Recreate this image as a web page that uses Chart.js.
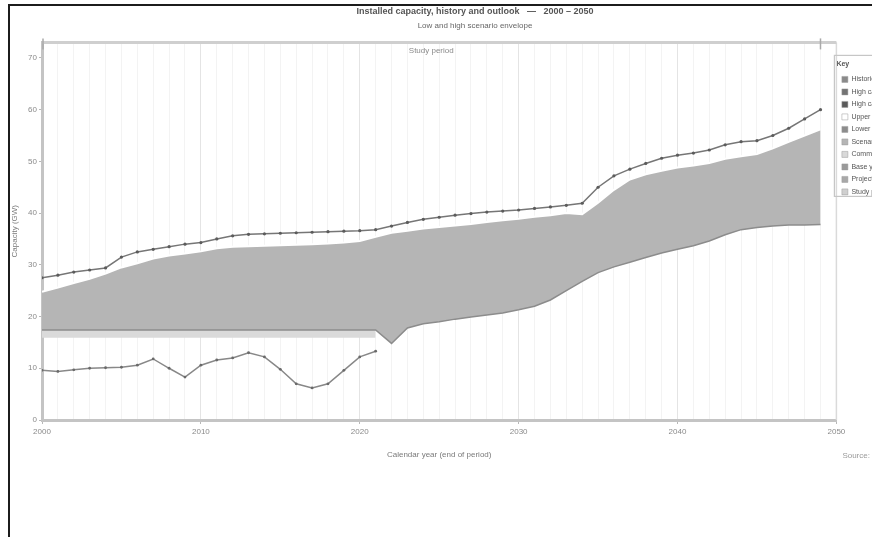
<!DOCTYPE html>
<html>
<head>
<meta charset="utf-8">
<title>Installed capacity outlook</title>
<script src="https://cdn.jsdelivr.net/npm/chart.js@4.4.1/dist/chart.umd.min.js"></script>
<style>
  html, body { margin: 0; padding: 0; background: #ffffff; overflow: hidden; }
  #frame {
    position: absolute; left: 8px; top: 4px;
    width: 1000px; height: 600px;
    border-left: 2px solid #1c1c1c; border-top: 2px solid #1c1c1c;
  }
  #chart { position: absolute; left: 0; top: 0; }
</style>
</head>
<body>
<div id="frame"><canvas id="chart" width="930" height="466"></canvas></div>
<script>
// Years on the horizontal axis
const years = [2000, 2001, 2002, 2003, 2004, 2005, 2006, 2007, 2008, 2009,
               2010, 2011, 2012, 2013, 2014, 2015, 2016, 2017, 2018, 2019,
               2020, 2021, 2022, 2023, 2024, 2025, 2026, 2027, 2028, 2029,
               2030, 2031, 2032, 2033, 2034, 2035, 2036, 2037, 2038, 2039,
               2040, 2041, 2042, 2043, 2044, 2045, 2046, 2047, 2048, 2049];
const historyYears = [2000, 2001, 2002, 2003, 2004, 2005, 2006, 2007, 2008, 2009, 2010,
                      2011, 2012, 2013, 2014, 2015, 2016, 2017, 2018, 2019, 2020, 2021];

// High case (GW)
const highCase = [27.5, 28.0, 28.6, 29.0, 29.4, 31.5, 32.5, 33.0, 33.5, 34.0,
                  34.3, 35.0, 35.6, 35.9, 36.0, 36.1, 36.2, 36.3, 36.4, 36.5,
                  36.6, 36.8, 37.5, 38.2, 38.8, 39.2, 39.6, 39.9, 40.2, 40.4,
                  40.6, 40.9, 41.2, 41.5, 41.9, 45.0, 47.2, 48.5, 49.6, 50.6,
                  51.2, 51.6, 52.2, 53.2, 53.8, 54.0, 55.0, 56.4, 58.2, 60.0];
// Upper edge of the scenario range (GW)
const rangeUpper = [24.8, 25.6, 26.5, 27.3, 28.3, 29.5, 30.3, 31.2, 31.8, 32.2,
                    32.6, 33.2, 33.5, 33.6, 33.7, 33.8, 33.9, 34.0, 34.1, 34.3,
                    34.6, 35.4, 36.2, 36.6, 37.0, 37.3, 37.6, 37.9, 38.3, 38.6,
                    38.9, 39.3, 39.6, 40.0, 39.8, 42.0, 44.5, 46.5, 47.5, 48.2,
                    48.8, 49.2, 49.7, 50.5, 51.0, 51.4, 52.5, 53.8, 55.0, 56.2];
// Lower edge of the scenario range (GW)
const rangeLower = [17.4, 17.4, 17.4, 17.4, 17.4, 17.4, 17.4, 17.4, 17.4, 17.4,
                    17.4, 17.4, 17.4, 17.4, 17.4, 17.4, 17.4, 17.4, 17.4, 17.4,
                    17.4, 17.4, 14.8, 17.8, 18.6, 19.0, 19.5, 19.9, 20.3, 20.7,
                    21.3, 22.0, 23.2, 25.0, 26.8, 28.5, 29.6, 30.5, 31.4, 32.3,
                    33.0, 33.7, 34.6, 35.8, 36.8, 37.2, 37.5, 37.7, 37.7, 37.8];
// Historical record (GW)
const historical = [9.6, 9.4, 9.7, 10.0, 10.1, 10.2, 10.6, 11.8, 10.0, 8.3, 10.6,
                    11.6, 12.0, 13.0, 12.2, 9.8, 7.0, 6.2, 7.0, 9.6, 12.2, 13.3];
// Committed floor strip below the range (GW)
const committedFloor = [15.9, 15.9, 15.9, 15.9, 15.9, 15.9, 15.9, 15.9, 15.9, 15.9, 15.9,
                        15.9, 15.9, 15.9, 15.9, 15.9, 15.9, 15.9, 15.9, 15.9, 15.9, 15.9];
const floorTopValue = 17.4;

// Axis ticks
const yMin = 0, yMax = 73, yStep = 10;
const xMin = 2000, xMax = 2050, xMajorStep = 10;

// Legend entries
const legendLabels = ['Historical record (annual)', 'High case (annual)', 'High case markers',
                      'Upper edge of range', 'Lower edge of range', 'Scenario range (shaded)',
                      'Committed floor', 'Base year 2021', 'Projection start 2022',
                      'Study period 2000 - 2049'];
const legendSwatches = ['#8a8a8a', '#737373', '#5a5a5a', '#ffffff', '#8c8c8c',
                        '#b5b5b5', '#d9d9d9', '#9a9a9a', '#a8a8a8', '#cfcfcf'];

const toPoints = (xs, ys) => xs.map((x, i) => ({ x: x, y: ys[i] }));

const FONT = "'Liberation Sans', Arial, sans-serif";

// Frame details: top span bar, right edge, legend box and source note
const frameDecor = {
  id: 'frameDecor',
  afterDraw(chart) {
    const { ctx, chartArea: a, scales } = chart;
    ctx.save();
    // right edge of the plot
    ctx.strokeStyle = '#dadada';
    ctx.lineWidth = 1.5;
    ctx.beginPath(); ctx.moveTo(a.right, a.top); ctx.lineTo(a.right, a.bottom); ctx.stroke();
    // span bar along the top
    ctx.strokeStyle = '#cfcfcf';
    ctx.lineWidth = 3;
    ctx.beginPath(); ctx.moveTo(a.left, a.top); ctx.lineTo(a.right, a.top); ctx.stroke();
    const x0 = scales.x.getPixelForValue(years[0]);
    const x1 = scales.x.getPixelForValue(years[years.length - 1]);
    ctx.strokeStyle = '#a9a9a9';
    ctx.lineWidth = 1.5;
    [x0 + 1, x1].forEach(px => {
      ctx.beginPath(); ctx.moveTo(px, a.top - 4); ctx.lineTo(px, a.top + 7); ctx.stroke();
    });
    ctx.fillStyle = '#8a8a8a';
    ctx.font = '8px ' + FONT;
    ctx.textAlign = 'center';
    ctx.textBaseline = 'middle';
    ctx.fillText('Study period', (x0 + x1) / 2, a.top + 8);
    // legend frame
    const lg = chart.legend;
    ctx.strokeStyle = '#c6c6c6';
    ctx.lineWidth = 1.2;
    ctx.strokeRect(lg.left - 2, a.top + 13, 140, 141);
    // source note
    ctx.fillStyle = '#9a9a9a';
    ctx.textAlign = 'left';
    ctx.fillText('Source: scenario model', a.right + 6, a.bottom + 36);
    ctx.restore();
  }
};

const ctx = document.getElementById('chart').getContext('2d');
new Chart(ctx, {
  type: 'line',
  data: {
    datasets: [
      {
        label: 'Lower edge of range',
        data: toPoints(years, rangeLower),
        borderColor: '#8c8c8c',
        borderWidth: 1.5,
        pointRadius: 0,
        fill: false,
        tension: 0,
        order: 3
      },
      {
        label: 'Upper edge of range',
        data: toPoints(years, rangeUpper),
        borderColor: '#ffffff',
        borderWidth: 2,
        backgroundColor: '#b5b5b5',
        pointRadius: 0,
        fill: '-1',
        tension: 0,
        order: 4
      },
      {
        label: 'High case',
        data: toPoints(years, highCase),
        borderColor: '#767676',
        borderWidth: 1.5,
        pointRadius: 1.6,
        pointBackgroundColor: '#5c5c5c',
        pointBorderWidth: 0,
        fill: false,
        tension: 0,
        order: 1
      },
      {
        label: 'Historical record',
        data: toPoints(historyYears, historical),
        borderColor: '#888888',
        borderWidth: 1.5,
        pointRadius: 1.4,
        pointBackgroundColor: '#6a6a6a',
        pointBorderWidth: 0,
        fill: false,
        tension: 0,
        order: 1
      },
      {
        label: 'Committed floor',
        data: toPoints(historyYears, committedFloor),
        borderColor: 'rgba(0,0,0,0)',
        borderWidth: 0,
        backgroundColor: '#dadada',
        pointRadius: 0,
        fill: { target: { value: floorTopValue } },
        tension: 0,
        order: 5
      }
    ]
  },
  options: {
    responsive: false,
    devicePixelRatio: 1,
    animation: false,
    layout: { padding: { left: 0, right: 0, top: 0, bottom: 0 } },
    plugins: {
      title: {
        display: true,
        text: 'Installed capacity, history and outlook   \u2014   2000 \u2013 2050',
        color: '#555555',
        font: { family: FONT, size: 9, weight: 'bold' },
        padding: { top: 0, bottom: 4 }
      },
      subtitle: {
        display: true,
        text: 'Low and high scenario envelope',
        color: '#666666',
        font: { family: FONT, size: 8 },
        padding: { top: 0, bottom: 12 }
      },
      legend: {
        display: true,
        position: 'right',
        align: 'start',
        maxWidth: 108,
        title: {
          display: true,
          position: 'start',
          text: 'Key',
          color: '#555555',
          font: { family: FONT, size: 7, weight: 'bold' },
          padding: { top: 55, bottom: 1 }
        },
        labels: {
          color: '#808080',
          font: { family: FONT, size: 7 },
          boxWidth: 6,
          boxHeight: 6,
          padding: 5.5,
          generateLabels: () => legendLabels.map((t, i) => ({
            text: t,
            fillStyle: legendSwatches[i],
            strokeStyle: '#9a9a9a',
            lineWidth: 0.5,
            hidden: false,
            datasetIndex: null
          }))
        },
        onClick: () => {}
      },
      tooltip: { enabled: false }
    },
    scales: {
      x: {
        type: 'linear',
        position: 'bottom',
        min: xMin,
        max: xMax,
        afterFit: (s) => { s.height = 52; },
        ticks: {
          stepSize: 1,
          autoSkip: false,
          maxRotation: 0,
          color: '#8a8a8a',
          font: { family: FONT, size: 8 },
          padding: 3,
          callback: (v) => (v % xMajorStep === 0 ? String(v) : '')
        },
        grid: {
          color: (c) => (c.tick && c.tick.value % xMajorStep === 0 ? '#e4e4e4' : '#f3f3f3'),
          tickColor: (c) => (c.tick && c.tick.value % xMajorStep === 0 ? '#b8b8b8' : 'rgba(0,0,0,0)'),
          tickLength: 4,
          lineWidth: 1
        },
        border: { display: true, color: '#c4c4c4', width: 3 },
        title: {
          display: true,
          text: 'Calendar year (end of period)',
          color: '#7a7a7a',
          font: { family: FONT, size: 8 },
          padding: { top: 0, bottom: 12 }
        }
      },
      y: {
        type: 'linear',
        position: 'left',
        min: yMin,
        max: yMax,
        afterFit: (s) => { s.width = 32; },
        ticks: {
          stepSize: yStep,
          includeBounds: false,
          color: '#8a8a8a',
          font: { family: FONT, size: 8 },
          padding: 2
        },
        grid: {
          display: true,
          drawOnChartArea: false,
          tickColor: '#b8b8b8',
          tickLength: 3
        },
        border: { display: true, color: '#c4c4c4', width: 3 },
        title: {
          display: true,
          text: 'Capacity (GW)',
          color: '#7a7a7a',
          font: { family: FONT, size: 8 },
          padding: { top: 0, bottom: 0 }
        }
      }
    }
  },
  plugins: [frameDecor]
});
</script>
</body>
</html>
